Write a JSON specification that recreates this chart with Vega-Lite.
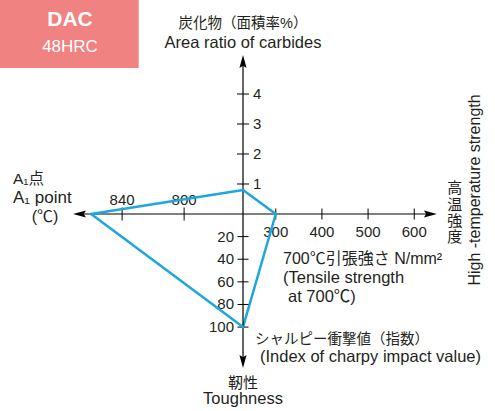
{
  "$schema": "https://vega.github.io/schema/vega-lite/v6.json",
  "width": 495,
  "height": 411,
  "padding": 0,
  "autosize": {"type": "none"},
  "background": "white",
  "config": {
    "view": {"stroke": null},
    "axis": {"disable": true},
    "text": {"font": "Liberation Sans, Noto Sans CJK JP, DejaVu Sans, sans-serif", "color": "#231f20", "fontSize": 15}
  },
  "datasets": {
    "profile": [{"a1": 860, "carbide": 0.8, "tensile": 300, "toughness": 100}],
    "ticks": [
      {"axis": "carbide", "value": 1}, {"axis": "carbide", "value": 2},
      {"axis": "carbide", "value": 3}, {"axis": "carbide", "value": 4},
      {"axis": "tensile", "value": 300}, {"axis": "tensile", "value": 400},
      {"axis": "tensile", "value": 500}, {"axis": "tensile", "value": 600},
      {"axis": "a1", "value": 800}, {"axis": "a1", "value": 840},
      {"axis": "toughness", "value": 20}, {"axis": "toughness", "value": 40},
      {"axis": "toughness", "value": 60}, {"axis": "toughness", "value": 80},
      {"axis": "toughness", "value": 100}
    ]
  },
  "data": {"name": "profile"},
  "resolve": {"scale": {"x": "independent", "y": "independent"}},
  "layer": [
    {
      "layer": [
        {
          "mark": {"type": "rect", "color": "#f08282"},
          "encoding": {
            "x": {"datum": -297.5, "type": "quantitative", "scale": {"domain": [-297.5, 775], "nice": false, "zero": false}},
            "x2": {"datum": 3},
            "y": {"datum": 7.133, "type": "quantitative", "scale": {"domain": [-6.567, 7.133], "nice": false, "zero": false}},
            "y2": {"datum": 4.87}
          }
        },
        {
          "mark": {"type": "text", "text": "DAC", "fontWeight": "bold", "fontSize": 21, "color": "white", "baseline": "middle", "align": "center"},
          "encoding": {
            "x": {"datum": -145.8, "type": "quantitative", "scale": {"domain": [-297.5, 775], "nice": false, "zero": false}},
            "y": {"datum": 6.47, "type": "quantitative", "scale": {"domain": [-6.567, 7.133], "nice": false, "zero": false}}
          }
        },
        {
          "mark": {"type": "text", "text": "48HRC", "fontSize": 17, "color": "white", "baseline": "middle", "align": "center"},
          "encoding": {
            "x": {"datum": -145.8, "type": "quantitative", "scale": {"domain": [-297.5, 775], "nice": false, "zero": false}},
            "y": {"datum": 5.57, "type": "quantitative", "scale": {"domain": [-6.567, 7.133], "nice": false, "zero": false}}
          }
        },
        {
          "mark": {"type": "text", "text": "炭化物（面積率%）", "fontSize": 14.5, "baseline": "middle", "align": "center"},
          "encoding": {
            "x": {"datum": 229, "type": "quantitative", "scale": {"domain": [-297.5, 775], "nice": false, "zero": false}},
            "y": {"datum": 6.333, "type": "quantitative", "scale": {"domain": [-6.567, 7.133], "nice": false, "zero": false}}
          }
        },
        {
          "mark": {"type": "text", "text": "Area ratio of carbides", "fontSize": 16.5, "baseline": "middle", "align": "center"},
          "encoding": {
            "x": {"datum": 229, "type": "quantitative", "scale": {"domain": [-297.5, 775], "nice": false, "zero": false}},
            "y": {"datum": 5.7, "type": "quantitative", "scale": {"domain": [-6.567, 7.133], "nice": false, "zero": false}}
          }
        },
        {
          "mark": {"type": "text", "text": ["高", "温", "強", "度"], "fontSize": 15, "lineHeight": 16.3, "baseline": "middle", "align": "center"},
          "encoding": {
            "x": {"datum": 688, "type": "quantitative", "scale": {"domain": [-297.5, 775], "nice": false, "zero": false}},
            "y": {"datum": 0.857, "type": "quantitative", "scale": {"domain": [-6.567, 7.133], "nice": false, "zero": false}}
          }
        },
        {
          "mark": {"type": "text", "text": "High -temperature strength", "fontSize": 16, "angle": 270, "baseline": "middle", "align": "center"},
          "encoding": {
            "x": {"datum": 731.7, "type": "quantitative", "scale": {"domain": [-297.5, 775], "nice": false, "zero": false}},
            "y": {"datum": 0.8, "type": "quantitative", "scale": {"domain": [-6.567, 7.133], "nice": false, "zero": false}}
          }
        },
        {
          "mark": {"type": "rule", "color": "black", "strokeWidth": 1.2},
          "encoding": {
            "x": {"datum": 229, "type": "quantitative", "scale": {"domain": [-297.5, 775], "nice": false, "zero": false}},
            "y": {"datum": 0, "type": "quantitative", "scale": {"domain": [-6.567, 7.133], "nice": false, "zero": false}},
            "y2": {"datum": 5.08}
          }
        },
        {
          "mark": {"type": "rule", "color": "black", "strokeWidth": 1.2},
          "encoding": {
            "x": {"datum": 229, "type": "quantitative", "scale": {"domain": [-297.5, 775], "nice": false, "zero": false}},
            "x2": {"datum": 635},
            "y": {"datum": 0, "type": "quantitative", "scale": {"domain": [-6.567, 7.133], "nice": false, "zero": false}}
          }
        },
        {
          "mark": {"type": "point", "shape": "M0,-1L0.55,1L0,0.65L-0.55,1Z", "filled": true, "color": "black", "opacity": 1, "size": 169},
          "encoding": {
            "x": {"datum": 229, "type": "quantitative", "scale": {"domain": [-297.5, 775], "nice": false, "zero": false}},
            "y": {"datum": 5.08, "type": "quantitative", "scale": {"domain": [-6.567, 7.133], "nice": false, "zero": false}}
          }
        },
        {
          "mark": {"type": "point", "shape": "M1,0L-1,0.55L-0.65,0L-1,-0.55Z", "filled": true, "color": "black", "opacity": 1, "size": 169},
          "encoding": {
            "x": {"datum": 635, "type": "quantitative", "scale": {"domain": [-297.5, 775], "nice": false, "zero": false}},
            "y": {"datum": 0, "type": "quantitative", "scale": {"domain": [-6.567, 7.133], "nice": false, "zero": false}}
          }
        },
        {
          "data": {"name": "ticks"},
          "transform": [{"filter": "datum.axis === 'carbide'"}],
          "mark": {"type": "tick", "orient": "horizontal", "size": 12, "thickness": 1, "color": "black", "opacity": 1},
          "encoding": {
            "x": {"datum": 229, "type": "quantitative", "scale": {"domain": [-297.5, 775], "nice": false, "zero": false}},
            "y": {"field": "value", "type": "quantitative", "scale": {"domain": [-6.567, 7.133], "nice": false, "zero": false}}
          }
        },
        {
          "data": {"name": "ticks"},
          "transform": [{"filter": "datum.axis === 'carbide'"}],
          "mark": {"type": "text", "align": "left", "baseline": "middle", "dx": 10},
          "encoding": {
            "x": {"datum": 229, "type": "quantitative", "scale": {"domain": [-297.5, 775], "nice": false, "zero": false}},
            "y": {"field": "value", "type": "quantitative", "scale": {"domain": [-6.567, 7.133], "nice": false, "zero": false}},
            "text": {"field": "value", "type": "quantitative", "format": "d"}
          }
        },
        {
          "data": {"name": "ticks"},
          "transform": [{"filter": "datum.axis === 'tensile'"}],
          "mark": {"type": "tick", "orient": "vertical", "size": 11, "thickness": 1, "color": "black", "opacity": 1},
          "encoding": {
            "x": {"field": "value", "type": "quantitative", "scale": {"domain": [-297.5, 775], "nice": false, "zero": false}},
            "y": {"datum": 0, "type": "quantitative", "scale": {"domain": [-6.567, 7.133], "nice": false, "zero": false}}
          }
        },
        {
          "data": {"name": "ticks"},
          "transform": [{"filter": "datum.axis === 'tensile'"}],
          "mark": {"type": "text", "align": "center", "baseline": "middle", "dy": 18},
          "encoding": {
            "x": {"field": "value", "type": "quantitative", "scale": {"domain": [-297.5, 775], "nice": false, "zero": false}},
            "y": {"datum": 0, "type": "quantitative", "scale": {"domain": [-6.567, 7.133], "nice": false, "zero": false}},
            "text": {"field": "value", "type": "quantitative", "format": "d"}
          }
        },
        {
          "mark": {"type": "rule", "color": "#1ea6de", "strokeWidth": 2.5, "strokeCap": "round"},
          "encoding": {
            "x": {"datum": 229, "type": "quantitative", "scale": {"domain": [-297.5, 775], "nice": false, "zero": false}},
            "x2": {"field": "tensile", "type": "quantitative"},
            "y": {"field": "carbide", "type": "quantitative", "scale": {"domain": [-6.567, 7.133], "nice": false, "zero": false}},
            "y2": {"datum": 0}
          }
        }
      ]
    },
    {
      "layer": [
        {
          "mark": {"type": "text", "text": "700℃引張強さ N/mm²", "fontSize": 16, "align": "left", "baseline": "middle"},
          "encoding": {
            "x": {"datum": 315.7, "type": "quantitative", "scale": {"domain": [-297.5, 775], "nice": false, "zero": false}},
            "y": {"datum": 39.8, "type": "quantitative", "scale": {"domain": [-189.2, 174.2], "reverse": true, "nice": false, "zero": false}}
          }
        },
        {
          "mark": {"type": "text", "text": "(Tensile strength", "fontSize": 16.5, "align": "left", "baseline": "middle"},
          "encoding": {
            "x": {"datum": 315.7, "type": "quantitative", "scale": {"domain": [-297.5, 775], "nice": false, "zero": false}},
            "y": {"datum": 56.6, "type": "quantitative", "scale": {"domain": [-189.2, 174.2], "reverse": true, "nice": false, "zero": false}}
          }
        },
        {
          "mark": {"type": "text", "text": "at 700℃)", "fontSize": 16.5, "align": "left", "baseline": "middle"},
          "encoding": {
            "x": {"datum": 326.5, "type": "quantitative", "scale": {"domain": [-297.5, 775], "nice": false, "zero": false}},
            "y": {"datum": 73.1, "type": "quantitative", "scale": {"domain": [-189.2, 174.2], "reverse": true, "nice": false, "zero": false}}
          }
        },
        {
          "mark": {"type": "text", "text": "シャルピー衝撃値（指数）", "fontSize": 14.5, "align": "left", "baseline": "middle"},
          "encoding": {
            "x": {"datum": 255, "type": "quantitative", "scale": {"domain": [-297.5, 775], "nice": false, "zero": false}},
            "y": {"datum": 111.4, "type": "quantitative", "scale": {"domain": [-189.2, 174.2], "reverse": true, "nice": false, "zero": false}}
          }
        },
        {
          "mark": {"type": "text", "text": "(Index of charpy impact value)", "fontSize": 16.5, "align": "left", "baseline": "middle"},
          "encoding": {
            "x": {"datum": 265.8, "type": "quantitative", "scale": {"domain": [-297.5, 775], "nice": false, "zero": false}},
            "y": {"datum": 126.2, "type": "quantitative", "scale": {"domain": [-189.2, 174.2], "reverse": true, "nice": false, "zero": false}}
          }
        },
        {
          "mark": {"type": "rule", "color": "#1ea6de", "strokeWidth": 2.5, "strokeCap": "round"},
          "encoding": {
            "x": {"field": "tensile", "type": "quantitative", "scale": {"domain": [-297.5, 775], "nice": false, "zero": false}},
            "x2": {"datum": 229},
            "y": {"datum": 0, "type": "quantitative", "scale": {"domain": [-189.2, 174.2], "reverse": true, "nice": false, "zero": false}},
            "y2": {"field": "toughness", "type": "quantitative"}
          }
        }
      ]
    },
    {
      "layer": [
        {
          "mark": {"type": "rule", "color": "black", "strokeWidth": 1.2},
          "encoding": {
            "x": {"datum": 762, "type": "quantitative", "scale": {"domain": [599.4, 918.8], "reverse": true, "nice": false, "zero": false}},
            "x2": {"datum": 867.5},
            "y": {"datum": 0, "type": "quantitative", "scale": {"domain": [-189.2, 174.2], "reverse": true, "nice": false, "zero": false}}
          }
        },
        {
          "mark": {"type": "rule", "color": "black", "strokeWidth": 1.2},
          "encoding": {
            "x": {"datum": 762, "type": "quantitative", "scale": {"domain": [599.4, 918.8], "reverse": true, "nice": false, "zero": false}},
            "y": {"datum": 0, "type": "quantitative", "scale": {"domain": [-189.2, 174.2], "reverse": true, "nice": false, "zero": false}},
            "y2": {"datum": 130.4}
          }
        },
        {
          "mark": {"type": "point", "shape": "M-1,0L1,0.55L0.65,0L1,-0.55Z", "filled": true, "color": "black", "opacity": 1, "size": 169},
          "encoding": {
            "x": {"datum": 867.5, "type": "quantitative", "scale": {"domain": [599.4, 918.8], "reverse": true, "nice": false, "zero": false}},
            "y": {"datum": 0, "type": "quantitative", "scale": {"domain": [-189.2, 174.2], "reverse": true, "nice": false, "zero": false}}
          }
        },
        {
          "mark": {"type": "point", "shape": "M0,1L0.55,-1L0,-0.65L-0.55,-1Z", "filled": true, "color": "black", "opacity": 1, "size": 169},
          "encoding": {
            "x": {"datum": 762, "type": "quantitative", "scale": {"domain": [599.4, 918.8], "reverse": true, "nice": false, "zero": false}},
            "y": {"datum": 130.4, "type": "quantitative", "scale": {"domain": [-189.2, 174.2], "reverse": true, "nice": false, "zero": false}}
          }
        },
        {
          "data": {"name": "ticks"},
          "transform": [{"filter": "datum.axis === 'toughness'"}],
          "mark": {"type": "tick", "orient": "horizontal", "size": 11, "thickness": 1, "color": "black", "opacity": 1},
          "encoding": {
            "x": {"datum": 762, "type": "quantitative", "scale": {"domain": [599.4, 918.8], "reverse": true, "nice": false, "zero": false}},
            "y": {"field": "value", "type": "quantitative", "scale": {"domain": [-189.2, 174.2], "reverse": true, "nice": false, "zero": false}}
          }
        },
        {
          "data": {"name": "ticks"},
          "transform": [{"filter": "datum.axis === 'toughness'"}],
          "mark": {"type": "text", "align": "right", "baseline": "middle", "dx": -9},
          "encoding": {
            "x": {"datum": 762, "type": "quantitative", "scale": {"domain": [599.4, 918.8], "reverse": true, "nice": false, "zero": false}},
            "y": {"field": "value", "type": "quantitative", "scale": {"domain": [-189.2, 174.2], "reverse": true, "nice": false, "zero": false}},
            "text": {"field": "value", "type": "quantitative", "format": "d"}
          }
        },
        {
          "data": {"name": "ticks"},
          "transform": [{"filter": "datum.axis === 'a1'"}],
          "mark": {"type": "tick", "orient": "vertical", "size": 13, "thickness": 1, "color": "black", "opacity": 1},
          "encoding": {
            "x": {"field": "value", "type": "quantitative", "scale": {"domain": [599.4, 918.8], "reverse": true, "nice": false, "zero": false}},
            "y": {"datum": 0, "type": "quantitative", "scale": {"domain": [-189.2, 174.2], "reverse": true, "nice": false, "zero": false}}
          }
        },
        {
          "data": {"name": "ticks"},
          "transform": [{"filter": "datum.axis === 'a1'"}],
          "mark": {"type": "text", "align": "center", "baseline": "middle", "dy": -14},
          "encoding": {
            "x": {"field": "value", "type": "quantitative", "scale": {"domain": [599.4, 918.8], "reverse": true, "nice": false, "zero": false}},
            "y": {"datum": 0, "type": "quantitative", "scale": {"domain": [-189.2, 174.2], "reverse": true, "nice": false, "zero": false}},
            "text": {"field": "value", "type": "quantitative", "format": "d"}
          }
        },
        {
          "mark": {"type": "text", "text": "靭性", "fontSize": 15, "align": "center", "baseline": "middle"},
          "encoding": {
            "x": {"datum": 762, "type": "quantitative", "scale": {"domain": [599.4, 918.8], "reverse": true, "nice": false, "zero": false}},
            "y": {"datum": 149.2, "type": "quantitative", "scale": {"domain": [-189.2, 174.2], "reverse": true, "nice": false, "zero": false}}
          }
        },
        {
          "mark": {"type": "text", "text": "Toughness", "fontSize": 16.5, "align": "center", "baseline": "middle"},
          "encoding": {
            "x": {"datum": 762, "type": "quantitative", "scale": {"domain": [599.4, 918.8], "reverse": true, "nice": false, "zero": false}},
            "y": {"datum": 163.8, "type": "quantitative", "scale": {"domain": [-189.2, 174.2], "reverse": true, "nice": false, "zero": false}}
          }
        },
        {
          "mark": {"type": "rule", "color": "#1ea6de", "strokeWidth": 2.5, "strokeCap": "round"},
          "encoding": {
            "x": {"datum": 762, "type": "quantitative", "scale": {"domain": [599.4, 918.8], "reverse": true, "nice": false, "zero": false}},
            "x2": {"field": "a1", "type": "quantitative"},
            "y": {"field": "toughness", "type": "quantitative", "scale": {"domain": [-189.2, 174.2], "reverse": true, "nice": false, "zero": false}},
            "y2": {"datum": 0}
          }
        }
      ]
    },
    {
      "layer": [
        {
          "mark": {"type": "text", "text": "A₁点", "fontSize": 15.5, "align": "left", "baseline": "middle"},
          "encoding": {
            "x": {"datum": 910.4, "type": "quantitative", "scale": {"domain": [599.4, 918.8], "reverse": true, "nice": false, "zero": false}},
            "y": {"datum": 1.167, "type": "quantitative", "scale": {"domain": [-6.567, 7.133], "nice": false, "zero": false}}
          }
        },
        {
          "mark": {"type": "text", "text": "A₁ point", "fontSize": 17, "align": "left", "baseline": "middle"},
          "encoding": {
            "x": {"datum": 910.4, "type": "quantitative", "scale": {"domain": [599.4, 918.8], "reverse": true, "nice": false, "zero": false}},
            "y": {"datum": 0.543, "type": "quantitative", "scale": {"domain": [-6.567, 7.133], "nice": false, "zero": false}}
          }
        },
        {
          "mark": {"type": "text", "text": "(℃)", "fontSize": 16, "align": "center", "baseline": "middle"},
          "encoding": {
            "x": {"datum": 889.7, "type": "quantitative", "scale": {"domain": [599.4, 918.8], "reverse": true, "nice": false, "zero": false}},
            "y": {"datum": -0.09, "type": "quantitative", "scale": {"domain": [-6.567, 7.133], "nice": false, "zero": false}}
          }
        },
        {
          "mark": {"type": "rule", "color": "#1ea6de", "strokeWidth": 2.5, "strokeCap": "round"},
          "encoding": {
            "x": {"field": "a1", "type": "quantitative", "scale": {"domain": [599.4, 918.8], "reverse": true, "nice": false, "zero": false}},
            "x2": {"datum": 762},
            "y": {"datum": 0, "type": "quantitative", "scale": {"domain": [-6.567, 7.133], "nice": false, "zero": false}},
            "y2": {"field": "carbide", "type": "quantitative"}
          }
        }
      ]
    }
  ]
}
